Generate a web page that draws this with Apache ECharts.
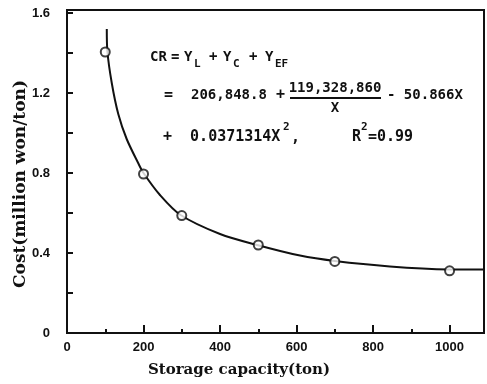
<!DOCTYPE html>
<html>
<head>
<meta charset="utf-8">
<script src="https://cdn.jsdelivr.net/npm/echarts@6/dist/echarts.min.js"></script>
<style>
  html, body { margin: 0; padding: 0; background: #fff; }
  #chart { width: 487px; height: 384px; }
</style>
</head>
<body>
<div id="chart"></div>
<script>
// fitted curve
const curveX = [104, 105.5, 117, 134, 156, 186, 200, 243, 297, 400, 497, 609, 700, 844, 1000, 1097];
const curveY = [1.52, 1.41, 1.25, 1.095, 0.97, 0.85, 0.80, 0.69, 0.59, 0.495, 0.44, 0.387, 0.36, 0.333, 0.318, 0.317];

// observed points (open circles)
const pointX = [100, 200, 300, 500, 700, 1000];
const pointY = [1.405, 0.795, 0.587, 0.44, 0.358, 0.311];

const xTickLabels = [0, 200, 400, 600, 800, 1000];
const yTickLabels = [0, 0.4, 0.8, 1.2, 1.6];

const mono = '"DejaVu Sans Mono"';
const serif = '"DejaVu Serif"';
const tickFont = { fontFamily: '"Liberation Sans"', fontWeight: 'bold', fontSize: 13, color: '#111' };

const chart = echarts.init(document.getElementById('chart'));

const zip = (xs, ys) => xs.map((x, i) => [x, ys[i]]);
const isTick = (list, v) => list.some((t) => Math.abs(t - v) < 1e-6);

// one piece of the formula text
const txt = (text, x, y, size, align) => ({
  type: 'text',
  x,
  y,
  style: {
    text,
    font: 'bold ' + size + 'px ' + mono,
    fill: '#111',
    align: align || 'left',
    verticalAlign: 'middle',
  },
});

chart.setOption({
  backgroundColor: '#fff',
  animation: false,
  grid: { left: 67, right: 3, top: 10, bottom: 51, show: true, borderColor: '#111', borderWidth: 2 },
  xAxis: {
    type: 'value',
    min: 0,
    max: 1090,
    interval: 200,
    axisLine: { lineStyle: { color: '#111', width: 2 } },
    axisTick: { inside: true, length: 8, lineStyle: { color: '#111', width: 2 } },
    minorTick: { show: true, splitNumber: 2, length: 4, lineStyle: { color: '#111', width: 2 } },
    splitLine: { show: false },
    axisLabel: {
      ...tickFont,
      margin: 8,
      showMaxLabel: false,
      formatter: (v) => (isTick(xTickLabels, v) ? String(v) : ''),
    },
  },
  yAxis: {
    type: 'value',
    min: 0,
    max: 1.615,
    interval: 0.2,
    axisLine: { lineStyle: { color: '#111', width: 2 } },
    axisTick: { inside: true, length: 6, lineStyle: { color: '#111', width: 2 } },
    splitLine: { show: false },
    axisLabel: {
      ...tickFont,
      margin: 17,
      showMaxLabel: false,
      formatter: (v) => (isTick(yTickLabels, v) ? String(v) : ''),
    },
  },
  graphic: [
    {
      type: 'text',
      x: 21,
      y: 184,
      rotation: Math.PI / 2,
      style: {
        text: 'Cost(million won/ton)',
        font: 'bold 17px ' + serif,
        fill: '#111',
        align: 'center',
        verticalAlign: 'middle',
      },
    },
    {
      type: 'text',
      x: 239,
      y: 370,
      style: {
        text: 'Storage capacity(ton)',
        font: 'bold 15px ' + serif,
        fill: '#111',
        align: 'center',
        verticalAlign: 'middle',
      },
    },
    // CR = YL + YC + YEF
    txt('CR', 150, 57, 14),
    txt('=', 171, 57, 14),
    txt('Y', 184, 57, 14),
    txt('L', 194, 64, 11),
    txt('+', 209, 57, 14),
    txt('Y', 223, 57, 14),
    txt('C', 233, 64, 11),
    txt('+', 249, 57, 14),
    txt('Y', 265, 57, 14),
    txt('EF', 275, 64, 11),
    // = 206,848.8 + 119,328,860/X - 50.866X
    txt('=', 164, 95, 15),
    txt('206,848.8', 191, 95, 14),
    txt('+', 276, 95, 15),
    txt('119,328,860', 335, 88, 14, 'center'),
    {
      type: 'line',
      shape: { x1: 290, y1: 98, x2: 381, y2: 98 },
      style: { stroke: '#111', lineWidth: 2 },
    },
    txt('X', 335, 108, 14, 'center'),
    txt('- 50.866X', 387, 95, 14),
    // + 0.0371314X^2,   R^2=0.99
    txt('+  0.0371314X', 163, 137, 15),
    txt('2', 283, 127, 11),
    txt(',', 291, 138, 15),
    txt('R', 352, 137, 15),
    txt('2', 361, 127, 11),
    txt('=0.99', 368, 137, 15),
  ],
  series: [
    {
      name: 'fit',
      type: 'line',
      data: zip(curveX, curveY),
      smooth: 0.3,
      showSymbol: false,
      lineStyle: { color: '#111', width: 2 },
      z: 2,
    },
    {
      name: 'observed',
      type: 'scatter',
      data: zip(pointX, pointY),
      symbol: 'circle',
      symbolSize: 9,
      itemStyle: { color: '#fff', borderColor: '#111', borderWidth: 2 },
      z: 3,
    },
  ],
});
</script>
</body>
</html>
